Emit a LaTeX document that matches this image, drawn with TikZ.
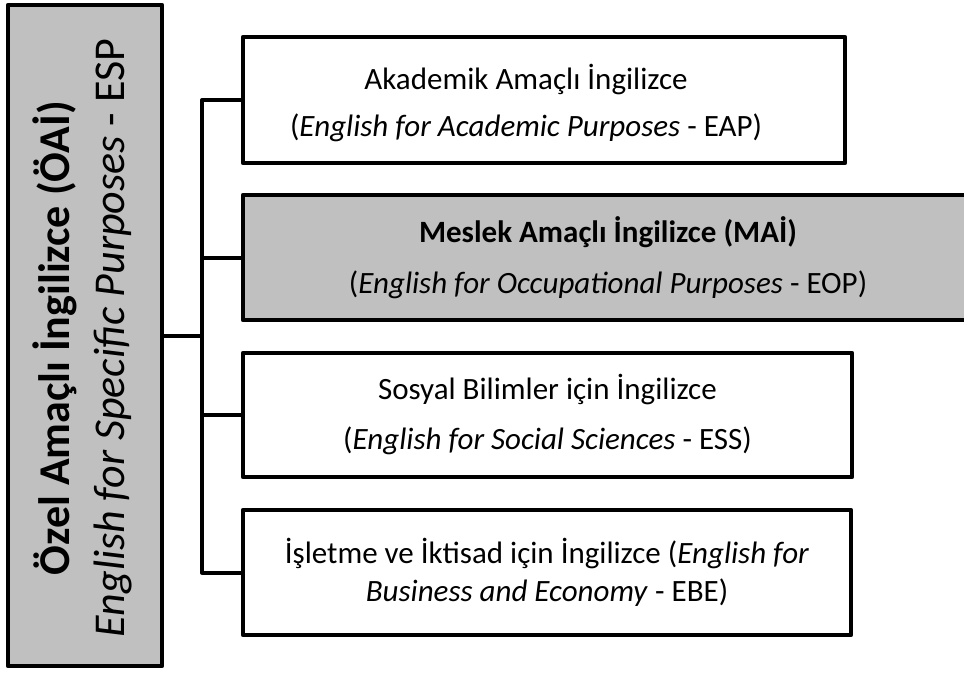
\documentclass[tikz,border=0pt]{standalone}
\usepackage{fontspec}
\setmainfont{Carlito}
\definecolor{boxgray}{HTML}{C0C0C0}
\tikzset{
  conn/.style={line width=4pt, line join=round, line cap=rect},
  frame/.style={draw, line width=4.5pt, line join=round, inner sep=0pt},
  branchbox/.style={frame, fill=white, align=center, font=\fontsize{31}{38}\selectfont},
  boxtext/.style={align=center, inner sep=0pt, font=\fontsize{31}{38}\selectfont},
  roottext/.style={align=center, inner sep=0pt, rotate=90, font=\fontsize{44}{55}\selectfont}
}
\begin{document}
\begin{tikzpicture}[x=1pt,y=-1pt]
\useasboundingbox (0,0) rectangle (964,673);
\clip (0,0) rectangle (964,673);
\node[frame, fill=boxgray, minimum width=154pt, minimum height=661pt] (esp) at (85,335.5) {};
\node[roottext] (esptext) at (82.5,338)
  {\textbf{Özel Amaçlı İngilizce (ÖAİ)}\\
   \textit{English for Specific Purposes} - ESP};
\node[branchbox, minimum width=602pt, minimum height=126pt] (eap) at (544,100) {};
\node[boxtext] (eaptext) at (526,103)
  {Akademik Amaçlı İngilizce\\[9pt](\textit{English for Academic Purposes} - EAP)};
\node[branchbox, fill=boxgray, minimum width=730pt, minimum height=125pt] (eop) at (608,257.5)
  {\textbf{Meslek Amaçlı İngilizce (MAİ)}\\[13pt](\textit{English for Occupational Purposes} - EOP)};
\node[branchbox, minimum width=609pt, minimum height=124pt] (ess) at (547.5,415)
  {Sosyal Bilimler için İngilizce\\[12pt](\textit{English for Social Sciences} - ESS)};
\node[branchbox, minimum width=608pt, minimum height=125pt] (ebe) at (547,572.5)
  {İşletme ve İktisad için İngilizce (\textit{English for}\\\textit{Business and Economy} - EBE)};
\coordinate (jn) at (202,335.5);
\draw[conn] (esp.east) -- (jn);
\draw[conn] (eap.west) -| (jn);
\draw[conn] (eop.west) -| (jn);
\draw[conn] (ess.west) -| (jn);
\draw[conn] (ebe.west) -| (jn);
\end{tikzpicture}
\end{document}
